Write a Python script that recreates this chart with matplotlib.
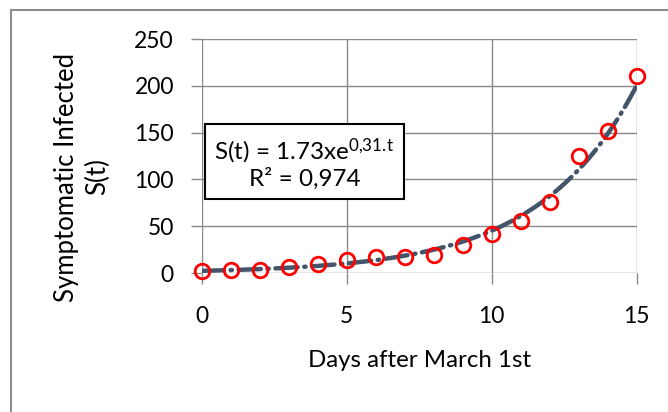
import numpy as np
import matplotlib
matplotlib.use('Agg')
import matplotlib.pyplot as plt
from matplotlib.lines import Line2D

plt.rcParams['font.family'] = ['Lato', 'DejaVu Sans']
plt.rcParams['mathtext.fontset'] = 'custom'
plt.rcParams['mathtext.rm'] = 'Lato'
plt.rcParams['mathtext.default'] = 'regular'

# данные
days = [0, 1, 2, 3, 4, 5, 6, 7, 8, 9, 10, 11, 12, 13, 14, 15]
cases = [2, 3, 3.5, 6, 10, 14, 17, 17, 19, 30, 42, 56, 76, 125, 152, 210]
x_ticks = [0, 5, 10, 15]
y_ticks = [0, 50, 100, 150, 200, 250]

# экспоненциальный тренд по данным
b, a = np.polyfit(days, np.log(cases), 1)
t_fit = np.linspace(0, 15, 200)
s_fit = np.exp(a) * np.exp(b * t_fit)

fig = plt.figure(figsize=(6.68, 4.12), dpi=100)
ax = fig.add_axes([201.7 / 668, 139 / 412, 435 / 668, 234 / 412])

grid_c = '#898989'
ax.plot(t_fit, s_fit, color='#44546A', lw=3.2, dashes=(5, 1.5, 0.3, 1.5),
        dash_capstyle='round', zorder=3)
ax.plot(days, cases, 'o', mfc='none', mec='#FF0000', mew=2, ms=10.5,
        zorder=4, clip_on=False)

ax.set_xlim(0, 15)
ax.set_ylim(0, 250)
ax.set_xticks(x_ticks)
ax.set_yticks(y_ticks)
ax.grid(True, color=grid_c, lw=1)
ax.set_axisbelow(True)
for s in ax.spines.values():
    s.set_visible(False)
ax.tick_params(axis='both', color=grid_c, length=8, width=1, labelsize=16.5)
ax.tick_params(axis='y', pad=12)
ax.tick_params(axis='x', pad=16)

ax.set_xlabel('Days after March 1st', fontsize=17.3, labelpad=16)
fig.text(82 / 668, 1 - 177 / 412, 'Symptomatic Infected\nS(t)', rotation=90,
         ha='center', va='center', fontsize=18.5, multialignment='center',
         linespacing=1.28)

# подпись тренда
fig.text(304.5 / 668, 1 - 163 / 412,
         'S(t) = 1.73xe$^{0{,}31.\\!t}$\nR² = 0,974',
         ha='center', va='center', fontsize=17.5, multialignment='center',
         linespacing=1.1,
         bbox=dict(boxstyle='square,pad=0.4', fc='white', ec='black', lw=1.5),
         zorder=5)

# рамка области диаграммы
fig.add_artist(Line2D([11 / 668, 1], [1 - 10 / 412, 1 - 10 / 412],
                      color='#8C8C8C', lw=1.5))
fig.add_artist(Line2D([11 / 668, 11 / 668], [0, 1 - 10 / 412],
                      color='#8C8C8C', lw=1.5))

fig.savefig('out.png', dpi=100)
